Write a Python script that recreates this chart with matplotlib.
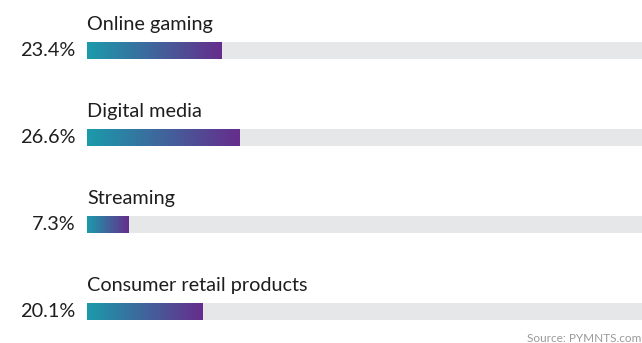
import numpy as np
import matplotlib
matplotlib.use('Agg')
import matplotlib.pyplot as plt
from matplotlib.colors import LinearSegmentedColormap

categories = ['Online gaming', 'Digital media', 'Streaming', 'Consumer retail products']
shares = [23.4, 26.6, 7.3, 20.1]
value_labels = ['23.4%', '26.6%', '7.3%', '20.1%']
source_text = 'Source: PYMNTS.com'

TEAL = '#1b9bab'
PURPLE = '#662d8c'
TRACK = '#e6e7e9'
TEXT = '#1e1e1e'

plt.rcParams['font.family'] = ['Lato', 'DejaVu Sans']

fig = plt.figure(figsize=(6.42, 3.43), dpi=100)
# axes starts where the bars start and runs past the right edge
ax = fig.add_axes([87 / 642, 0, 573 / 642, 1])
ax.axis('off')

bar_h = 0.195
gradient = LinearSegmentedColormap.from_list('bar', [TEAL, PURPLE])
ramp = np.linspace(0, 1, 256).reshape(1, -1)

for i, (name, share, label) in enumerate(zip(categories, shares, value_labels)):
    ax.barh(i, 100, height=bar_h, left=0, color=TRACK, zorder=1, clip_on=False)
    ax.imshow(ramp, cmap=gradient, aspect='auto', zorder=2, interpolation='bilinear',
              extent=(0, share, i + bar_h / 2, i - bar_h / 2))
    ax.text(0, i - 0.236, name, ha='left', va='baseline', fontsize=14.3,
            color=TEXT)
    ax.annotate(label, xy=(0, i), xytext=(-8.5, 0), textcoords='offset points',
                ha='right', va='center', fontsize=14.3, color=TEXT)

ax.set_xlim(0, 100)
ax.set_ylim(3.362, -0.58)

fig.text(527 / 642, 1 - 333 / 343, source_text, ha='left', va='top',
         fontsize=8.5, color='#9a9a9a')

fig.savefig('out.png', dpi=100)
